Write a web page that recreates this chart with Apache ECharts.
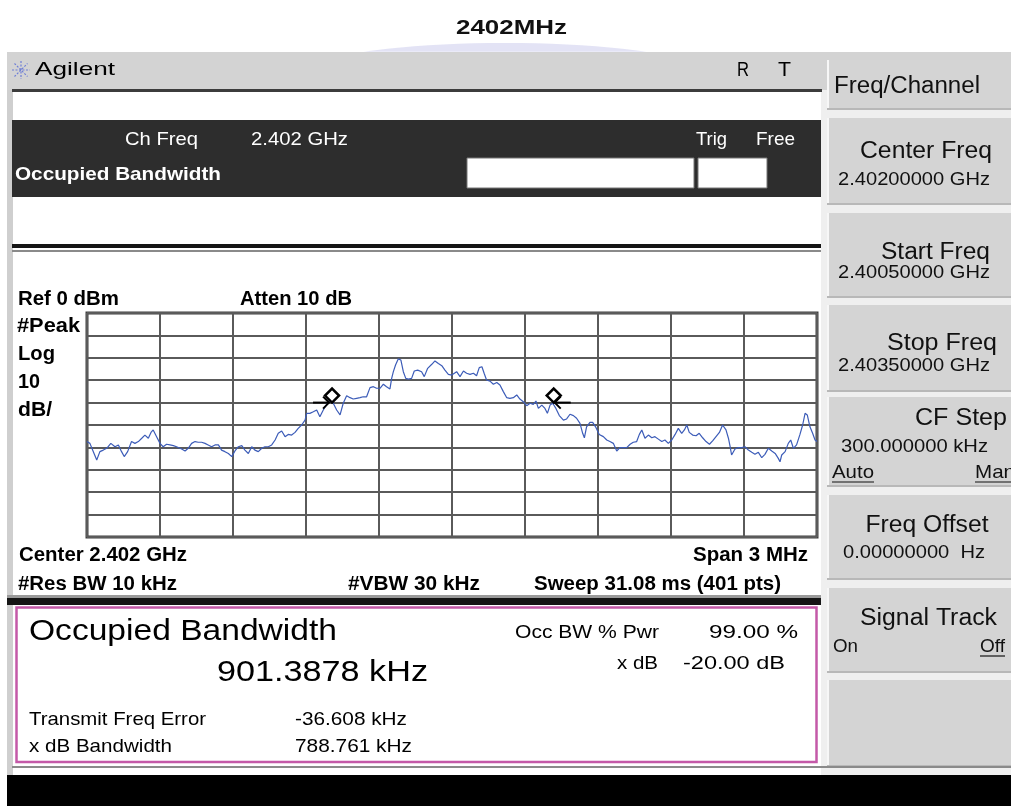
<!DOCTYPE html>
<html>
<head>
<meta charset="utf-8">
<title>2402MHz Occupied Bandwidth</title>
<script src="https://cdn.jsdelivr.net/npm/echarts@6/dist/echarts.min.js"></script>
<style>
  html, body { margin: 0; padding: 0; background: #fff; }
  #chart { width: 1011px; height: 806px; }
</style>
</head>
<body>
<div id="chart"></div>
<script>
// spectrum trace: offset from 2.402 GHz (kHz) and level (dBm)
const traceFreqKHz = [
  -1500, -1488, -1474, -1460, -1447, -1433, -1419, -1402, -1385, -1371,
  -1358, -1347, -1333, -1317, -1303, -1289, -1275, -1262, -1248, -1237,
  -1228, -1214, -1200, -1187, -1173, -1159, -1145, -1132, -1111, -1097,
  -1084, -1070, -1056, -1043, -1029, -1015, -1002, -988, -974, -960,
  -947, -933, -919, -905, -892, -878, -864, -851, -837, -823,
  -810, -796, -782, -769, -755, -741, -727, -714, -700, -686,
  -673, -659, -645, -632, -618, -604, -597, -584, -570, -556,
  -543, -529, -515, -501, -488, -474, -460, -447, -433, -419,
  -406, -392, -378, -365, -351, -337, -323, -310, -296, -282,
  -269, -255, -248, -241, -232, -221, -210, -200, -190, -179,
  -166, -155, -141, -125, -114, -100, -83, -70, -56, -42,
  -29, -15, -1, 5, 19, 33, 47, 60, 74, 88,
  101, 112, 123, 132, 142, 156, 170, 184, 197, 211,
  225, 238, 252, 266, 279, 293, 307, 321, 334, 345,
  355, 369, 382, 392, 403, 414, 427, 441, 458, 471,
  485, 499, 512, 526, 537, 544, 553, 567, 578, 592,
  605, 622, 636, 649, 663, 677, 690, 704, 718, 732,
  745, 759, 770, 780, 793, 807, 821, 834, 848, 862,
  875, 889, 903, 917, 930, 944, 955, 965, 975, 989,
  1003, 1016, 1030, 1044, 1058, 1071, 1085, 1099, 1112, 1126,
  1136, 1143, 1149, 1163, 1177, 1191, 1204, 1218, 1232, 1245,
  1259, 1273, 1286, 1300, 1314, 1328, 1341, 1348, 1355, 1369,
  1382, 1392, 1403, 1416, 1430, 1441, 1451, 1460, 1471, 1482,
  1492, 1500
];
const traceLevelDbm = [
  -57.4, -58.2, -61.9, -65.6, -61.9, -61.2, -60.4, -58.2, -59.7, -58.9,
  -61.9, -64.1, -61.9, -57.4, -58.2, -57.4, -55.9, -54.5, -55.9, -53.3,
  -52.2, -55.2, -58.2, -59.7, -58.6, -58.9, -59.2, -59.7, -60.7, -61.6,
  -60.4, -58.2, -57.4, -57.7, -57.7, -58.2, -58.9, -59.7, -58.9, -58.9,
  -61.2, -61.9, -62.7, -64.1, -61.6, -59.7, -59.2, -61.2, -62.7, -59.7,
  -61.2, -61.9, -60.4, -59.7, -59.7, -58.9, -56.7, -53.7, -52.7, -55.2,
  -54.2, -54.5, -53.3, -51.5, -50.0, -47.8, -44.8, -44.8, -44.1, -43.3,
  -46.3, -43.3, -40.8, -38.8, -40.3, -43.3, -45.5, -40.3, -36.9, -37.8,
  -38.4, -38.1, -37.8, -37.4, -37.4, -33.3, -32.9, -33.6, -33.6, -31.8,
  -32.9, -33.9, -29.2, -26.2, -23.2, -20.5, -21.0, -26.2, -29.2, -29.5,
  -29.2, -25.9, -25.5, -26.2, -28.4, -24.7, -22.9, -21.4, -22.5, -23.5,
  -25.5, -27.4, -27.7, -27.7, -26.2, -28.4, -25.9, -26.9, -27.4, -26.9,
  -28.0, -24.4, -24.0, -26.9, -29.9, -30.4, -31.8, -31.0, -32.1, -35.1,
  -37.8, -38.1, -37.8, -36.6, -38.4, -39.6, -41.4, -40.3, -40.8, -39.3,
  -42.6, -41.1, -42.6, -44.8, -41.1, -40.3, -42.6, -45.8, -47.8, -47.3,
  -45.2, -45.8, -47.0, -49.3, -53.7, -55.7, -50.8, -48.8, -48.8, -51.2,
  -54.2, -55.2, -56.7, -57.4, -58.2, -61.6, -60.1, -60.1, -60.1, -58.6,
  -57.7, -57.4, -54.2, -52.2, -55.9, -54.5, -55.7, -55.2, -56.3, -57.4,
  -56.7, -58.2, -56.7, -54.2, -51.5, -53.7, -52.2, -50.0, -53.3, -54.5,
  -54.8, -53.7, -55.7, -57.4, -58.6, -57.1, -55.2, -53.3, -50.0, -52.2,
  -55.9, -59.7, -63.4, -60.7, -60.1, -60.1, -59.7, -61.2, -62.2, -63.1,
  -62.2, -64.6, -63.1, -60.4, -61.6, -62.7, -64.9, -66.4, -63.4, -61.9,
  -58.2, -56.7, -60.4, -58.9, -54.2, -50.0, -44.8, -45.5, -50.8, -53.7,
  -56.7, -57.4
];
// occupied bandwidth edge markers (arrow +1 = points right, -1 = points left)
const markerFreqKHz = [-493, 418];
const markerLevelDbm = [-40, -40];
const markerArrowDir = [1, -1];

const FONT = '"Liberation Sans", Arial, sans-serif';
const measure = document.createElement('canvas').getContext('2d');

// text helper, w = width the text takes on the screen shot
function txt(x, y, s, size, o) {
  o = o || {};
  const font = (o.bold ? 'bold ' : '') + size + 'px ' + FONT;
  measure.font = font;
  const sx = o.w ? o.w / measure.measureText(s).width : 1;
  return {
    type: 'text', x: x, y: y, scaleX: sx, z: 20, silent: true,
    style: { text: s, font: font, fill: o.color || '#000', textAlign: o.align || 'left', textVerticalAlign: 'middle' }
  };
}
function rect(x, y, w, h, fill, extra) {
  return Object.assign({ type: 'rect', z: 1, silent: true, shape: { x: x, y: y, width: w, height: h }, style: { fill: fill } }, extra || {});
}
function line(x1, y1, x2, y2, color, width) {
  return { type: 'line', z: 20, silent: true, shape: { x1: x1, y1: y1, x2: x2, y2: y2 }, style: { stroke: color, lineWidth: width || 1 } };
}

const g = [];
// faint watermark arc peeking out above the header (top part of an ellipse only)
const arcPts = [];
for (let k = 0; k <= 40; k++) {
  const a = Math.PI + Math.PI * k / 40;
  const py = 73 + 30 * Math.sin(a);
  if (py <= 52) arcPts.push([505 + 200 * Math.cos(a), py]);
}
g.push({ type: 'polygon', z: 1, silent: true, shape: { points: arcPts }, style: { fill: 'rgba(175,175,225,0.35)' } });

// frame, header, side column
g.push(rect(7, 52, 1004, 38, '#d3d3d3'));
g.push(rect(7, 90, 6, 685, '#cfcfcf'));
g.push(rect(821, 90, 190, 685, '#efefef'));
g.push(rect(12, 89, 810, 3, '#3c3c3c'));

// soft keys
const keyTops = [60, 118, 213, 305, 397, 495, 588, 680];
const keyBottoms = [110, 205, 298, 392, 487, 580, 673, 767];
keyTops.forEach(function (t, i) {
  const h = keyBottoms[i] - t;
  g.push(rect(827, t, 184, h, '#d4d4d4'));
  g.push(rect(827, t, 2, h, '#f7f7f7'));
  g.push(rect(827, keyBottoms[i] - 2, 184, 2, '#b8b8b8'));
});

// measurement title bar
g.push(rect(12, 120, 809, 77, '#2d2d2d'));
g.push(rect(467, 158, 227, 30, '#fff', { style: { fill: '#fff', stroke: '#777', lineWidth: 1 } }));
g.push(rect(698, 158, 69, 30, '#fff', { style: { fill: '#fff', stroke: '#777', lineWidth: 1 } }));
g.push(rect(12, 244, 809, 4, '#151515'));
g.push(rect(12, 250, 809, 2, '#8a8a8a'));

// result area
g.push(rect(7, 595, 814, 3, '#9a9a9a'));
g.push(rect(7, 598, 814, 7, '#151515'));
g.push(rect(16.5, 607.5, 800, 154.5, '#fff', { style: { fill: '#fff', stroke: '#c459a8', lineWidth: 2.5 } }));
g.push(rect(12, 766, 999, 2, '#8a8a8a'));
g.push(rect(7, 775, 1004, 31, '#000'));

// Agilent spark
[[0, 9], [9, 0], [6.5, 6.5], [6.5, -6.5]].forEach(function (d) {
  g.push({ type: 'line', z: 20, silent: true, shape: { x1: 21 - d[0], y1: 70 - d[1], x2: 21 + d[0], y2: 70 + d[1] },
    style: { stroke: '#6f7fd6', lineWidth: 1.2, lineDash: [2, 1.5] } });
});

// texts
g.push(txt(511.5, 28, '2402MHz', 20, { bold: true, align: 'center', w: 111, color: '#111' }));
g.push(txt(35, 70, 'Agilent', 19, { w: 80 }));
g.push(txt(737, 70, 'R', 20, { w: 12 }));
g.push(txt(778, 70, 'T', 20, { w: 13 }));

g.push(txt(125, 140, 'Ch Freq', 19, { w: 73, color: '#fff' }));
g.push(txt(251, 140, '2.402 GHz', 19, { w: 97, color: '#fff' }));
g.push(txt(696, 140, 'Trig', 19, { w: 31, color: '#fff' }));
g.push(txt(756, 140, 'Free', 19, { w: 39, color: '#fff' }));
g.push(txt(15, 175, 'Occupied Bandwidth', 19, { bold: true, w: 206, color: '#fff' }));

g.push(txt(18, 299, 'Ref 0 dBm', 20, { bold: true, w: 101 }));
g.push(txt(240, 299, 'Atten 10 dB', 20, { bold: true, w: 112 }));
g.push(txt(17, 326, '#Peak', 20, { bold: true, w: 63 }));
g.push(txt(18, 354, 'Log', 20, { bold: true, w: 37 }));
g.push(txt(18, 382, '10', 20, { bold: true, w: 22 }));
g.push(txt(18, 410, 'dB/', 20, { bold: true, w: 34 }));
g.push(txt(19, 555, 'Center 2.402 GHz', 20, { bold: true, w: 168 }));
g.push(txt(808, 555, 'Span 3 MHz', 20, { bold: true, align: 'right', w: 115 }));
g.push(txt(18, 584, '#Res BW 10 kHz', 20, { bold: true, w: 159 }));
g.push(txt(348, 584, '#VBW 30 kHz', 20, { bold: true, w: 132 }));
g.push(txt(534, 584, 'Sweep 31.08 ms (401 pts)', 20, { bold: true, w: 247 }));

g.push(txt(29, 632, 'Occupied Bandwidth', 30, { w: 308 }));
g.push(txt(217, 673, '901.3878 kHz', 30, { w: 211 }));
g.push(txt(515, 633, 'Occ BW % Pwr', 19, { w: 144 }));
g.push(txt(798, 633, '99.00 %', 19, { align: 'right', w: 89 }));
g.push(txt(658, 664, 'x dB', 19, { align: 'right', w: 41 }));
g.push(txt(683, 664, '-20.00 dB', 19, { w: 102 }));
g.push(txt(29, 720, 'Transmit Freq Error', 19, { w: 177 }));
g.push(txt(295, 720, '-36.608 kHz', 19, { w: 112 }));
g.push(txt(29, 747, 'x dB Bandwidth', 19, { w: 143 }));
g.push(txt(295, 747, '788.761 kHz', 19, { w: 117 }));

// soft key labels
g.push(txt(834, 87, 'Freq/Channel', 23, { w: 146, color: '#111' }));
g.push(txt(992, 152, 'Center Freq', 23, { align: 'right', w: 132, color: '#111' }));
g.push(txt(838, 180, '2.40200000 GHz', 19, { w: 152, color: '#111' }));
g.push(txt(990, 253, 'Start Freq', 23, { align: 'right', w: 109, color: '#111' }));
g.push(txt(838, 273, '2.40050000 GHz', 19, { w: 152, color: '#111' }));
g.push(txt(997, 344, 'Stop Freq', 23, { align: 'right', w: 110, color: '#111' }));
g.push(txt(838, 366, '2.40350000 GHz', 19, { w: 152, color: '#111' }));
g.push(txt(1007, 419, 'CF Step', 23, { align: 'right', w: 92, color: '#111' }));
g.push(txt(841, 447, '300.000000 kHz', 19, { w: 147, color: '#111' }));
g.push(txt(832, 473, 'Auto', 19, { w: 42, color: '#111' }));
g.push(line(832, 482, 874, 482, '#111', 1.2));
g.push(txt(975, 473, 'Man', 19, { w: 40, color: '#111' }));
g.push(line(975, 482, 1011, 482, '#111', 1.2));
g.push(txt(927, 526, 'Freq Offset', 23, { align: 'center', w: 123, color: '#111' }));
g.push(txt(843, 553, '0.00000000  Hz', 19, { w: 142, color: '#111' }));
g.push(txt(997, 619, 'Signal Track', 23, { align: 'right', w: 137, color: '#111' }));
g.push(txt(833, 647, 'On', 19, { w: 25, color: '#111' }));
g.push(txt(980, 647, 'Off', 19, { w: 25, color: '#111' }));
g.push(line(980, 656, 1005, 656, '#111', 1.2));

const chart = echarts.init(document.getElementById('chart'), null, { renderer: 'canvas' });
chart.setOption({
  animation: false,
  backgroundColor: '#fff',
  graphic: { elements: g },
  grid: {
    show: true,
    left: 87, top: 313, width: 730, height: 224,
    borderColor: '#3f3f3f', borderWidth: 3,
    backgroundColor: 'transparent'
  },
  xAxis: {
    type: 'value', min: -1500, max: 1500, interval: 300,
    axisLine: { show: false }, axisTick: { show: false }, axisLabel: { show: false },
    splitLine: { show: true, lineStyle: { color: '#5a5a5a', width: 2 } }
  },
  yAxis: {
    type: 'value', min: -100, max: 0, interval: 10,
    axisLine: { show: false }, axisTick: { show: false }, axisLabel: { show: false },
    splitLine: { show: true, lineStyle: { color: '#5a5a5a', width: 2 } }
  },
  series: [
    {
      name: 'trace',
      type: 'line',
      showSymbol: false,
      lineStyle: { color: '#3c5cb8', width: 1.2 },
      data: traceFreqKHz.map(function (f, i) { return [f, traceLevelDbm[i]]; })
    },
    {
      name: 'markers',
      type: 'custom',
      clip: false,
      z: 10,
      data: markerFreqKHz.map(function (f, i) { return [f, markerLevelDbm[i], markerArrowDir[i]]; }),
      renderItem: function (params, api) {
        const p = api.coord([api.value(0), api.value(1)]);
        const dir = api.value(2);
        const tip = dir > 0 ? p[0] - 3 : p[0] + 1;
        const tail = tip - dir * 16;
        return {
          type: 'group',
          children: [
            { type: 'polyline', shape: { points: [[tail, p[1]], [tip, p[1]]] }, style: { stroke: '#000', lineWidth: 2, fill: null } },
            { type: 'polyline', shape: { points: [[tip - dir * 6, p[1] - 6], [tip, p[1]], [tip - dir * 6, p[1] + 6]] }, style: { stroke: '#000', lineWidth: 2, fill: null } },
            { type: 'polygon', shape: { points: [[p[0], p[1]], [p[0] + 7, p[1] - 7], [p[0], p[1] - 14], [p[0] - 7, p[1] - 7]] },
              style: { fill: '#fff', stroke: '#000', lineWidth: 2.5 } }
          ]
        };
      }
    }
  ]
});
</script>
</body>
</html>
